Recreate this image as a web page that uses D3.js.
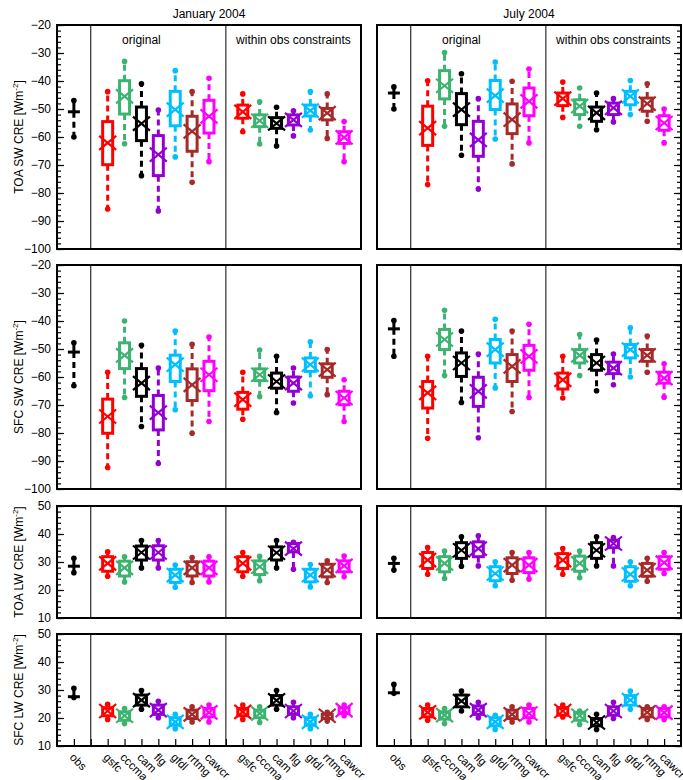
<!DOCTYPE html>
<html><head><meta charset="utf-8">
<script src="https://cdn.jsdelivr.net/npm/d3@7"></script>
<style>body{margin:0;background:#fff} text{font-family:"Liberation Sans",Arial,Helvetica,sans-serif;fill:#000}</style>
</head><body><svg id="c" width="683" height="780"></svg>
<script>
// ---------- data ----------
const models = ["gsfc","cccma","cam","flg","gfdl","rrtmg","cawcr"];
const modelColors = ["#ff0000","#3cb371","#000000","#9400d3","#00bfff","#a52a2a","#ff00ff"];
const tickLabels = ["obs","gsfc","cccma","cam","flg","gfdl","rrtmg","cawcr","gsfc","cccma","cam","flg","gfdl","rrtmg","cawcr"];
const months = ["January 2004","July 2004"];
const groupLabels = ["original","within obs constraints"];
const rowLabels = ["TOA SW CRE","SFC SW CRE","TOA LW CRE","SFC LW CRE"];
const swTicks = [-100,-90,-80,-70,-60,-50,-40,-30,-20];
const lwTicks = [10,20,30,40,50];

// obs: [min, median, max]; models: [min, q1, median, q3, max]
const toaSwJanObs = [-60.0,-51.0,-47.0];
const toaSwJanOrig = [[-85.7,-69.9,-62.1,-54.5,-43.8],[-62.4,-51.8,-45.5,-39.9,-33.0],[-73.8,-61.3,-55.2,-49.3,-41.0],[-86.4,-73.8,-66.3,-59.5,-50.4],[-67.1,-56.0,-50.2,-43.7,-36.3],[-76.2,-65.1,-58.0,-52.6,-43.8],[-68.8,-58.6,-52.6,-46.9,-39.0]];
const toaSwJanCon = [[-58.1,-53.3,-51.0,-48.6,-44.6],[-62.5,-56.3,-54.2,-52.1,-47.4],[-63.2,-56.9,-55.1,-53.1,-49.4],[-59.6,-55.7,-53.9,-52.1,-50.6],[-57.5,-52.5,-50.6,-48.6,-43.8],[-60.5,-53.9,-51.5,-49.8,-44.6],[-68.8,-62.3,-60.1,-58.1,-54.5]];
const toaSwJulObs = [-50.0,-44.3,-42.1];
const toaSwJulOrig = [[-77.0,-63.0,-56.8,-49.0,-39.9],[-56.2,-46.4,-41.7,-36.3,-29.8],[-66.5,-55.6,-50.2,-44.5,-37.4],[-78.6,-66.9,-61.0,-54.4,-46.3],[-60.7,-50.2,-45.2,-39.8,-33.2],[-69.6,-58.8,-53.8,-48.2,-40.1],[-62.1,-52.4,-47.3,-42.5,-35.7]];
const toaSwJulCon = [[-53.0,-48.8,-46.3,-44.3,-40.4],[-56.2,-52.0,-49.0,-46.7,-42.5],[-57.4,-54.4,-51.4,-49.3,-44.3],[-54.6,-52.0,-49.6,-47.9,-46.3],[-52.0,-48.5,-45.5,-43.7,-39.8],[-54.4,-50.8,-48.1,-46.1,-41.0],[-62.1,-57.6,-55.0,-52.4,-50.0]];

const sfcSwJanObs = [-63.1,-51.1,-47.8];
const sfcSwJanOrig = [[-92.3,-80.1,-74.1,-67.9,-58.3],[-67.3,-57.0,-52.3,-47.8,-40.0],[-77.7,-66.9,-62.2,-57.0,-48.7],[-90.9,-78.9,-72.7,-66.6,-56.8],[-71.7,-61.6,-55.6,-52.2,-43.6],[-80.1,-68.4,-62.8,-57.1,-48.3],[-75.9,-64.9,-59.2,-54.4,-45.7]];
const sfcSwJanCon = [[-75.1,-71.5,-68.1,-65.5,-58.3],[-67.0,-61.3,-59.2,-57.1,-50.4],[-72.7,-64.0,-61.6,-58.6,-52.6],[-69.3,-65.1,-62.2,-60.0,-56.8],[-66.7,-58.0,-55.6,-53.2,-47.4],[-66.3,-60.1,-57.4,-55.3,-50.2],[-75.9,-69.9,-67.5,-65.1,-61.0]];
const sfcSwJulObs = [-52.6,-42.8,-39.8];
const sfcSwJulOrig = [[-81.9,-71.1,-65.7,-61.6,-52.6],[-59.5,-50.2,-46.6,-43.0,-36.2],[-69.1,-59.8,-55.0,-51.4,-43.6],[-81.7,-70.5,-65.1,-60.1,-51.8],[-63.9,-55.0,-50.2,-46.6,-39.4],[-72.3,-61.6,-56.2,-52.0,-43.6],[-67.3,-57.6,-52.6,-48.7,-41.2]];
const sfcSwJulCon = [[-67.5,-64.3,-61.0,-58.6,-52.6],[-59.5,-55.0,-52.3,-50.2,-44.8],[-64.9,-57.6,-55.0,-52.0,-46.8],[-62.8,-58.8,-56.8,-54.7,-51.8],[-60.0,-53.2,-50.2,-48.4,-42.4],[-58.3,-54.4,-52.3,-50.2,-45.4],[-67.2,-62.2,-60.4,-58.3,-55.3]];

const toaLwJanObs = [26.2,28.5,31.3];
const toaLwJanOrig = [[24.9,26.7,29.5,31.9,33.6],[22.9,25.0,27.9,30.3,31.9],[27.9,30.7,33.4,35.7,37.7],[27.9,30.7,33.4,35.8,37.7],[21.0,22.7,25.3,27.4,28.9],[22.7,25.0,27.9,30.1,31.6],[22.9,25.0,27.9,30.3,31.9]];
const toaLwJanCon = [[24.9,26.5,29.5,31.9,33.4],[23.3,25.5,28.3,30.4,32.0],[27.9,30.7,33.3,35.4,37.7],[27.4,33.6,34.8,36.6,37.0],[21.1,22.9,25.3,27.4,29.1],[22.7,24.7,27.1,29.2,30.4],[24.7,26.5,28.6,30.4,32.1]];
const toaLwJulObs = [27.1,29.5,31.3];
const toaLwJulOrig = [[25.6,27.7,30.7,33.4,35.2],[24.1,26.5,29.5,31.9,33.9],[28.5,31.3,34.2,36.9,39.0],[28.6,31.9,34.8,37.2,39.4],[21.5,23.3,25.9,28.3,30.1],[23.5,25.9,28.9,31.5,33.4],[23.9,26.2,28.9,31.5,33.4]];
const toaLwJulCon = [[25.6,27.7,30.7,33.0,34.8],[24.4,26.7,29.5,32.1,33.9],[28.6,31.3,34.2,36.9,39.0],[28.6,35.1,36.6,37.8,38.7],[21.5,23.1,25.6,28.3,30.1],[23.1,24.9,27.1,29.5,31.3],[25.9,27.4,29.8,31.9,33.4]];

const sfcLwJanObs = [27.3,27.6,30.6];
const sfcLwJanOrig = [[19.5,20.8,22.5,23.7,24.9],[18.0,19.2,20.8,22.2,23.4],[23.1,24.6,26.4,28.2,29.8],[20.1,21.3,22.8,24.6,26.0],[16.2,17.4,18.6,20.1,21.3],[18.6,19.8,21.3,22.8,24.0],[18.6,20.4,22.0,23.4,24.6]];
const sfcLwJanCon = [[19.5,20.8,22.2,23.4,24.6],[18.4,20.1,21.6,22.8,24.0],[23.1,24.6,26.3,28.0,29.8],[20.1,21.3,22.5,24.0,25.6],[16.2,17.4,18.6,20.1,21.3],[18.9,19.8,20.8,21.3,22.0],[20.8,21.6,22.8,23.7,24.6]];
const sfcLwJulObs = [28.8,29.0,32.0];
const sfcLwJulOrig = [[19.2,20.4,22.0,23.4,24.6],[18.0,19.6,21.0,22.2,23.4],[22.5,24.0,26.0,28.2,29.6],[20.1,21.3,22.8,24.3,25.6],[15.9,17.2,18.6,20.1,21.0],[18.6,19.8,21.3,22.8,24.0],[18.6,20.1,21.6,23.4,24.6]];
const sfcLwJulCon = [[20.4,21.0,22.5,23.7,24.6],[17.7,19.2,20.8,22.0,22.5],[15.9,17.2,18.4,19.8,21.3],[19.8,21.0,22.5,24.0,25.6],[23.1,24.6,26.4,28.0,29.6],[19.5,20.4,22.0,23.4,24.0],[19.5,20.4,21.9,23.4,24.0]];

// ---------- layout ----------
const svg = d3.select("#c");
const cols = [{x0:57,x1:361},{x0:377,x1:681}];
const rows = [
  {y0:25,y1:249,dom:[-100,-20],ticks:swTicks},
  {y0:265,y1:489,dom:[-100,-20],ticks:swTicks},
  {y0:506,y1:618,dom:[10,50],ticks:lwTicks},
  {y0:634,y1:746,dom:[10,50],ticks:lwTicks}
];
const panels = [
  [0,0,toaSwJanObs,toaSwJanOrig,toaSwJanCon],[0,1,toaSwJulObs,toaSwJulOrig,toaSwJulCon],
  [1,0,sfcSwJanObs,sfcSwJanOrig,sfcSwJanCon],[1,1,sfcSwJulObs,sfcSwJulOrig,sfcSwJulCon],
  [2,0,toaLwJanObs,toaLwJanOrig,toaLwJanCon],[2,1,toaLwJulObs,toaLwJulOrig,toaLwJulCon],
  [3,0,sfcLwJanObs,sfcLwJanOrig,sfcLwJanCon],[3,1,sfcLwJulObs,sfcLwJulOrig,sfcLwJulCon]
];

function minorTicks(dom){const a=[];for(let v=dom[0];v<=dom[1]+1e-9;v+=2)a.push(v);return a;}

function drawBox(g,x,y,cx,d,color){
  const [mn,q1,md,q3,mx]=d;
  const wl = g.append("g").attr("stroke",color).attr("fill","none");
  wl.append("line").attr("x1",cx).attr("x2",cx).attr("y1",y(q3)).attr("y2",y(mx)).attr("stroke-width",3).attr("stroke-dasharray","6,4");
  wl.append("line").attr("x1",cx).attr("x2",cx).attr("y1",y(q1)).attr("y2",y(mn)).attr("stroke-width",3).attr("stroke-dasharray","6,4");
  wl.append("rect").attr("x",cx-5).attr("width",10).attr("y",y(q3)).attr("height",Math.max(1,y(q1)-y(q3))).attr("stroke-width",3);
  const ym=y(md), hx=8.5, hy=7;
  wl.append("line").attr("x1",cx-hx).attr("y1",ym-hy).attr("x2",cx+hx).attr("y2",ym+hy).attr("stroke-width",2.2);
  wl.append("line").attr("x1",cx-hx).attr("y1",ym+hy).attr("x2",cx+hx).attr("y2",ym-hy).attr("stroke-width",2.2);
  g.append("circle").attr("cx",cx).attr("cy",y(mx)).attr("r",2.8).attr("fill",color);
  g.append("circle").attr("cx",cx).attr("cy",y(mn)).attr("r",2.8).attr("fill",color);
}
function drawObs(g,x,y,cx,d){
  const [mn,md,mx]=d;
  g.append("line").attr("x1",cx).attr("x2",cx).attr("y1",y(md)).attr("y2",y(mx)).attr("stroke","#000").attr("stroke-width",3);
  g.append("line").attr("x1",cx).attr("x2",cx).attr("y1",y(md)).attr("y2",y(mn)).attr("stroke","#000").attr("stroke-width",3).attr("stroke-dasharray","6,4");
  g.append("line").attr("x1",cx-6).attr("x2",cx+6).attr("y1",y(md)).attr("y2",y(md)).attr("stroke","#000").attr("stroke-width",3);
  g.append("circle").attr("cx",cx).attr("cy",y(mx)).attr("r",2.8).attr("fill","#000");
  g.append("circle").attr("cx",cx).attr("cy",y(mn)).attr("r",2.8).attr("fill","#000");
}

panels.forEach(([ri,ci,obs,orig,con])=>{
  const R=rows[ri], C=cols[ci];
  const x=d3.scaleLinear().domain([0,18]).range([C.x0,C.x1]);
  const y=d3.scaleLinear().domain(R.dom).range([R.y1,R.y0]);
  const g=svg.append("g");
  [2,10].forEach(p=>g.append("line").attr("x1",x(p)).attr("x2",x(p)).attr("y1",R.y0).attr("y2",R.y1).attr("stroke","#000").attr("stroke-width",1));
  if(ci===0){
    const ax=g.append("g").attr("transform",`translate(${C.x0},0)`).call(d3.axisLeft(y).tickValues(R.ticks).tickSize(-7).tickPadding(6).tickFormat(d3.format("d")));
    ax.select(".domain").remove();
    ax.selectAll("text").attr("font-size","12px").attr("font-family","Liberation Sans, Arial, sans-serif");
    ax.selectAll("line").attr("stroke-width",1.2);
    const mi=g.append("g").attr("transform",`translate(${C.x0},0)`).call(d3.axisLeft(y).tickValues(minorTicks(R.dom)).tickSize(-4).tickFormat(""));
    mi.select(".domain").remove();
    mi.selectAll("line").attr("stroke-width",1.2);
  } else {
    const ax=g.append("g").attr("transform",`translate(${C.x1},0)`).call(d3.axisRight(y).tickValues(R.ticks).tickSize(-7).tickFormat(""));
    ax.select(".domain").remove();
    ax.selectAll("line").attr("stroke-width",1.2);
    const mi=g.append("g").attr("transform",`translate(${C.x1},0)`).call(d3.axisRight(y).tickValues(minorTicks(R.dom)).tickSize(-4).tickFormat(""));
    mi.select(".domain").remove();
    mi.selectAll("line").attr("stroke-width",1.2);
  }
  if(ri===3){
    const pos=d3.range(1,18);
    const ax=g.append("g").attr("transform",`translate(0,${R.y1})`).call(d3.axisBottom(x).tickValues(pos).tickSize(-7).tickFormat(""));
    ax.select(".domain").remove();
    ax.selectAll("line").attr("stroke-width",1.2);
    const labPos=[1,3,4,5,6,7,8,9,11,12,13,14,15,16,17];
    labPos.forEach((p,i)=>{
      g.append("text").attr("transform",`translate(${x(p)-5},${R.y1+12}) rotate(45)`)
        .attr("font-size","11.5px").attr("text-anchor","start").text(tickLabels[i]);
    });
  }
  g.append("rect").attr("x",C.x0).attr("y",R.y0).attr("width",C.x1-C.x0).attr("height",R.y1-R.y0)
    .attr("fill","none").attr("stroke","#000").attr("stroke-width",2);
  drawObs(g,x,y,x(1),obs);
  orig.forEach((d,i)=>drawBox(g,x,y,x(3+i),d,modelColors[i]));
  con.forEach((d,i)=>drawBox(g,x,y,x(11+i),d,modelColors[i]));
  if(ri===0){
    g.append("text").attr("x",x(9)).attr("y",18).attr("text-anchor","middle").attr("font-size","12px").text(months[ci]);
    g.append("text").attr("x",x(5)).attr("y",44).attr("text-anchor","middle").attr("font-size","12px").text(groupLabels[0]);
    g.append("text").attr("x",x(14)).attr("y",44).attr("text-anchor","middle").attr("font-size","12px").text(groupLabels[1]);
  }
  if(ci===0){
    const cy=(R.y0+R.y1)/2;
    const t=svg.append("text").attr("transform",`translate(23,${cy}) rotate(-90)`).attr("text-anchor","middle").attr("font-size","12px");
    t.append("tspan").text(rowLabels[ri]+" [Wm");
    t.append("tspan").attr("dy",-5).attr("font-size","8px").text("-2");
    t.append("tspan").attr("dy",5).text("]");
  }
});
</script></body></html>
